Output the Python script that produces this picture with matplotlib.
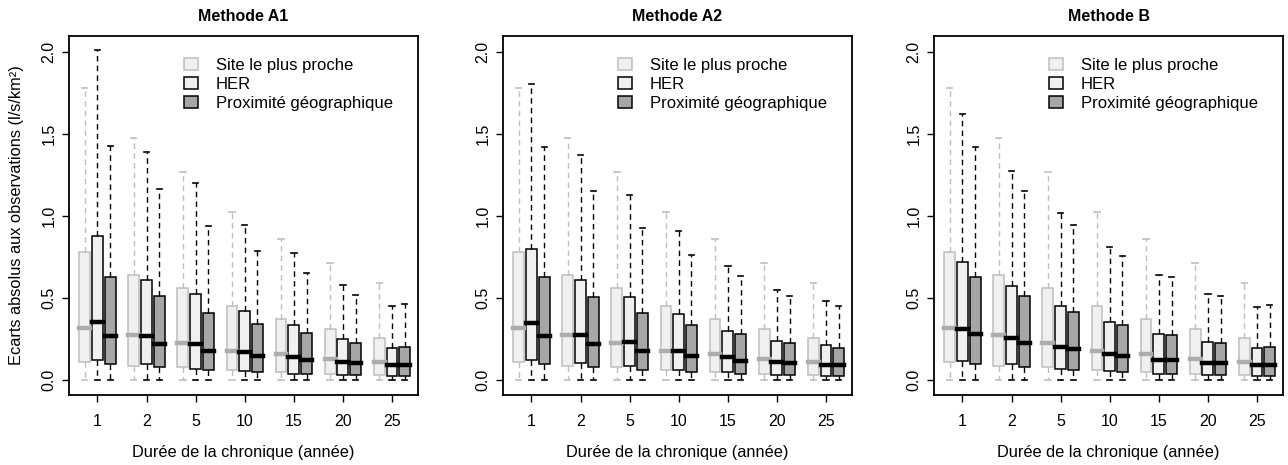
import matplotlib
matplotlib.use("Agg")
import matplotlib.pyplot as plt
from matplotlib.patches import Patch

plt.rcParams["font.family"] = ["Liberation Sans", "DejaVu Sans"]

# --- donnees ---
durees = ["1", "2", "5", "10", "15", "20", "25"]
titres = ["Methode A1", "Methode A2", "Methode B"]
noms_series = ["Site le plus proche", "HER", "Proximité géographique"]

moust_bas = [0, 0, 0, 0, 0, 0, 0]

# Site le plus proche (identique dans les 3 panneaux)
site_q1 = [0.114, 0.088, 0.081, 0.065, 0.049, 0.041, 0.035]
site_med = [0.319, 0.273, 0.228, 0.181, 0.159, 0.127, 0.112]
site_q3 = [0.783, 0.643, 0.560, 0.450, 0.374, 0.311, 0.258]
site_haut = [1.780, 1.480, 1.268, 1.027, 0.861, 0.714, 0.596]

# Methode A1
a1_her_q1 = [0.124, 0.098, 0.071, 0.057, 0.041, 0.035, 0.026]
a1_her_med = [0.358, 0.267, 0.220, 0.173, 0.142, 0.112, 0.090]
a1_her_q3 = [0.881, 0.612, 0.527, 0.421, 0.336, 0.250, 0.197]
a1_her_haut = [2.015, 1.390, 1.205, 0.950, 0.775, 0.582, 0.452]
a1_prox_q1 = [0.098, 0.081, 0.065, 0.049, 0.041, 0.035, 0.026]
a1_prox_med = [0.267, 0.220, 0.181, 0.150, 0.126, 0.104, 0.090]
a1_prox_q3 = [0.629, 0.513, 0.411, 0.344, 0.289, 0.228, 0.203]
a1_prox_haut = [1.430, 1.168, 0.942, 0.791, 0.653, 0.521, 0.466]

# Methode A2
a2_her_q1 = [0.124, 0.104, 0.087, 0.065, 0.049, 0.035, 0.026]
a2_her_med = [0.350, 0.275, 0.236, 0.181, 0.142, 0.112, 0.090]
a2_her_q3 = [0.798, 0.612, 0.505, 0.405, 0.303, 0.242, 0.212]
a2_her_haut = [1.805, 1.375, 1.131, 0.913, 0.698, 0.551, 0.482]
a2_prox_q1 = [0.098, 0.081, 0.065, 0.049, 0.041, 0.035, 0.026]
a2_prox_med = [0.267, 0.220, 0.181, 0.150, 0.120, 0.104, 0.090]
a2_prox_q3 = [0.629, 0.505, 0.411, 0.336, 0.281, 0.228, 0.197]
a2_prox_haut = [1.424, 1.154, 0.930, 0.767, 0.635, 0.513, 0.452]

# Methode B
b_her_q1 = [0.120, 0.098, 0.071, 0.057, 0.041, 0.033, 0.026]
b_her_med = [0.311, 0.258, 0.203, 0.159, 0.126, 0.104, 0.090]
b_her_q3 = [0.720, 0.574, 0.450, 0.358, 0.281, 0.234, 0.197]
b_her_haut = [1.624, 1.278, 1.023, 0.812, 0.643, 0.527, 0.444]
b_prox_q1 = [0.098, 0.081, 0.065, 0.049, 0.041, 0.033, 0.026]
b_prox_med = [0.281, 0.228, 0.189, 0.150, 0.126, 0.104, 0.090]
b_prox_q3 = [0.629, 0.513, 0.419, 0.336, 0.273, 0.228, 0.203]
b_prox_haut = [1.424, 1.154, 0.944, 0.755, 0.631, 0.515, 0.460]

site = (site_q1, site_med, site_q3, site_haut)
panneaux = [
    [site, (a1_her_q1, a1_her_med, a1_her_q3, a1_her_haut),
     (a1_prox_q1, a1_prox_med, a1_prox_q3, a1_prox_haut)],
    [site, (a2_her_q1, a2_her_med, a2_her_q3, a2_her_haut),
     (a2_prox_q1, a2_prox_med, a2_prox_q3, a2_prox_haut)],
    [site, (b_her_q1, b_her_med, b_her_q3, b_her_haut),
     (b_prox_q1, b_prox_med, b_prox_q3, b_prox_haut)],
]

# --- style facon R ---
GRIS_BORD = "#BEBEBE"
GRIS_CLAIR = "#F0F0F0"
GRIS_FONCE = "#A6A6A6"
styles = [
    dict(fill=GRIS_CLAIR, edge=GRIS_BORD, med="#ADADAD"),
    dict(fill=GRIS_CLAIR, edge="black", med="black"),
    dict(fill=GRIS_FONCE, edge="black", med="black"),
]
decalages = [-0.26, 0.0, 0.26]
LARGEUR = 0.22


def stats_boites(q1, med, q3, haut):
    return [dict(whislo=lo, q1=a, med=m, q3=b, whishi=h, fliers=[])
            for lo, a, m, b, h in zip(moust_bas, q1, med, q3, haut)]


fig = plt.figure(figsize=(12.88, 4.65), dpi=100)
lefts = [69 / 1288, 503 / 1288, 934 / 1288]

for k, (titre, series) in enumerate(zip(titres, panneaux)):
    ax = fig.add_axes([lefts[k], 70 / 465, 349 / 1288, 359 / 465])
    for (q1, med, q3, haut), st, dx in zip(series, styles, decalages):
        pos = [i + 1 + dx for i in range(len(durees))]
        ax.bxp(stats_boites(q1, med, q3, haut), positions=pos, widths=LARGEUR,
               patch_artist=True, capwidths=LARGEUR * 0.5,
               boxprops=dict(facecolor=st["fill"], edgecolor=st["edge"], linewidth=1.1),
               medianprops=dict(color=st["med"], linewidth=3.2, solid_capstyle="projecting"),
               whiskerprops=dict(color=st["edge"], linewidth=1.0, linestyle=(0, (4, 3))),
               capprops=dict(color=st["edge"], linewidth=1.2),
               manage_ticks=False)

    ax.set_xlim(0.42, 7.53)
    ax.set_ylim(-0.09, 2.1)
    ax.set_xticks(range(1, len(durees) + 1))
    ax.set_xticklabels(durees)
    ax.set_yticks([0.0, 0.5, 1.0, 1.5, 2.0])
    ax.set_yticklabels(["0.0", "0.5", "1.0", "1.5", "2.0"], rotation=90, va="center", ha="right")
    ax.tick_params(direction="out", length=5, width=1.0, labelsize=11.5, color="black")
    ax.tick_params(axis="x", pad=9)
    ax.tick_params(axis="y", pad=4)
    for sp in ax.spines.values():
        sp.set_linewidth(1.3)

    ax.set_title(titre, fontsize=11.5, fontweight="bold", pad=11)
    ax.set_xlabel("Durée de la chronique (année)", fontsize=11.8)
    ax.xaxis.set_label_coords(0.5, -0.139)
    ax.xaxis.label.set_va("top")
    if k == 0:
        ax.set_ylabel("Ecarts absolus aux observations (l/s/km²)", fontsize=11.8)
        ax.yaxis.set_label_coords(-0.13, 0.5)

    poignees = [Patch(facecolor=st["fill"], edgecolor=st["edge"], linewidth=1.1)
                for st in styles]
    ax.legend(poignees, noms_series, loc="upper left", bbox_to_anchor=(0.33, 0.94),
              frameon=False, fontsize=12, handlelength=0.8, handleheight=0.75,
              handletextpad=1.1, labelspacing=0.25, borderpad=0, borderaxespad=0)

fig.savefig("out.png", dpi=100)
